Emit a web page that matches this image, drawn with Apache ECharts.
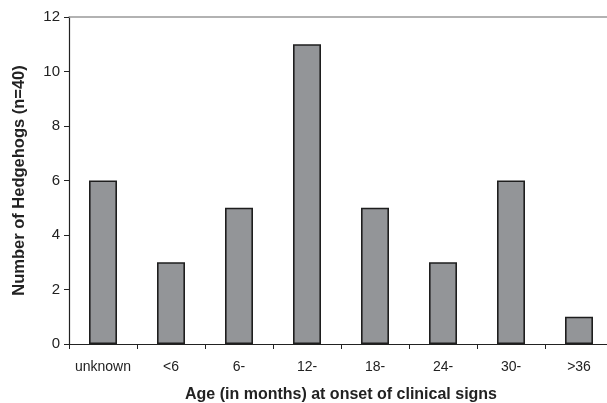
<!DOCTYPE html>
<html>
<head>
<meta charset="utf-8">
<script src="https://cdn.jsdelivr.net/npm/echarts@6/dist/echarts.min.js"></script>
<style>html,body{margin:0;padding:0;background:#fff;}#c{width:607px;height:403px;}</style>
</head>
<body>
<div id="c"></div>
<script>
var categories = ['unknown', '<6', '6-', '12-', '18-', '24-', '30-', '>36'];
var counts = [6, 3, 5, 11, 5, 3, 6, 1];
var yTicks = [0, 2, 4, 6, 8, 10, 12];

var chart = echarts.init(document.getElementById('c'));
var font = 'Liberation Sans, Arial, sans-serif';
chart.setOption({
  animation: false,
  grid: { left: 69, top: 17, width: 544, height: 327, containLabel: false, outerBoundsMode: 'none' },
  xAxis: [{
    type: 'category',
    data: categories,
    position: 'bottom',
    axisLine: { lineStyle: { color: '#222', width: 1.2 } },
    axisTick: { show: true, alignWithLabel: false, interval: 0, length: 5, lineStyle: { color: '#222' } },
    axisLabel: { color: '#222', fontFamily: font, fontSize: 14, margin: 16, interval: 0 },
    name: 'Age (in months) at onset of clinical signs',
    nameLocation: 'middle',
    nameGap: 43,
    nameTextStyle: { color: '#222', fontFamily: font, fontSize: 16, fontWeight: 'bold' }
  }, {
    type: 'category',
    data: categories,
    position: 'top',
    axisLine: { lineStyle: { color: '#999', width: 1.5 } },
    axisTick: { show: false },
    axisLabel: { show: false }
  }],
  yAxis: {
    type: 'value',
    min: yTicks[0], max: yTicks[yTicks.length - 1], interval: 2,
    axisLine: { show: true, lineStyle: { color: '#222', width: 1.2 } },
    axisTick: { show: true, length: 5, lineStyle: { color: '#222' } },
    splitLine: { show: false },
    axisLabel: { color: '#222', fontFamily: font, fontSize: 15, margin: 9 },
    name: 'Number of Hedgehogs (n=40)',
    nameLocation: 'middle',
    nameGap: 41,
    nameTextStyle: { color: '#222', fontFamily: font, fontSize: 16.5, fontWeight: 'bold' }
  },
  series: [{
    type: 'bar',
    data: counts,
    barWidth: 28,
    itemStyle: { color: '#939598', borderColor: '#1e1e1e', borderWidth: 1.6 }
  }]
});
</script>
</body>
</html>
